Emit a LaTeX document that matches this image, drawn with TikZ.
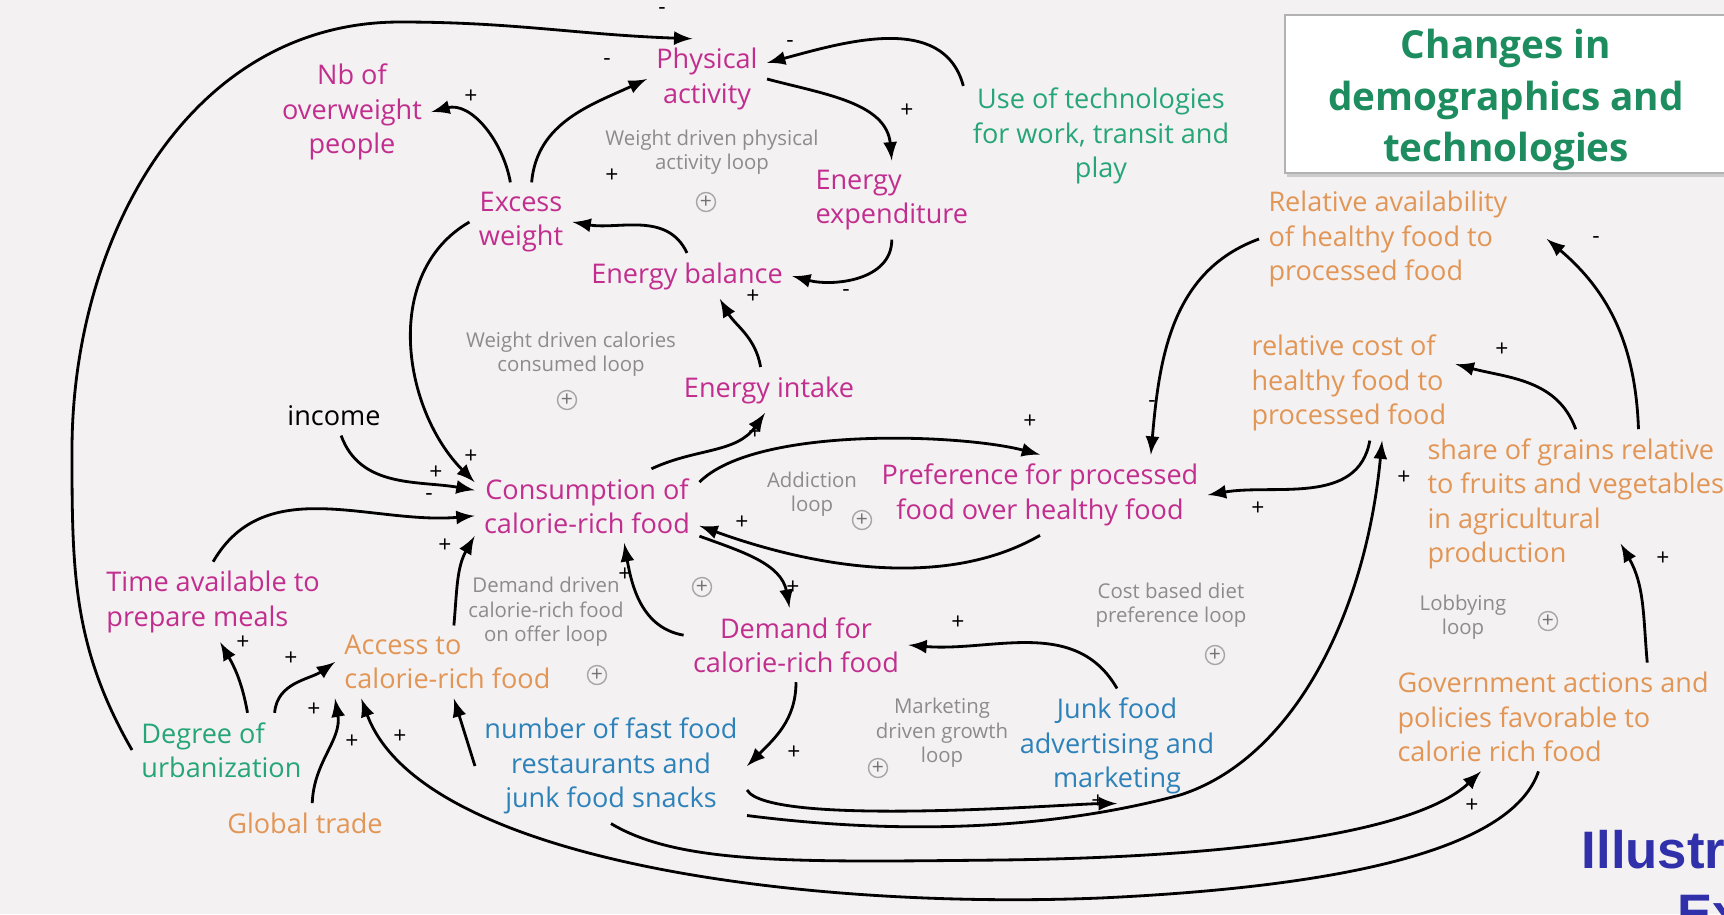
\documentclass[tikz,border=0pt]{standalone}
\usepackage{fontspec}
\setmainfont{Open Sans}
\newfontfamily\stampfont{Liberation Sans}
\usepackage{tikz}
\usetikzlibrary{calc,shadows}

\definecolor{bgpaper}{RGB}{244,241,243}
\definecolor{varpink}{RGB}{193,46,142}
\definecolor{tecgreen}{RGB}{38,166,120}
\definecolor{titlegreen}{RGB}{29,140,95}
\definecolor{suporange}{RGB}{226,150,86}
\definecolor{mktblue}{RGB}{45,130,185}
\definecolor{stampblue}{RGB}{48,48,170}

\begin{document}
\begin{tikzpicture}[x=0.01cm,y=0.01cm,
  base/.style={align=center,inner sep=2.5pt,font=\fontsize{7.7}{9.8}\selectfont},
  pinkvar/.style={base,text=varpink},
  greenvar/.style={base,text=tecgreen},
  orangevar/.style={base,text=suporange},
  bluevar/.style={base,text=mktblue},
  looplabel/.style={align=center,inner sep=0pt,text=black!45,font=\fontsize{5.8}{7}\selectfont},
  loopmark/.style={circle,draw=black!35,text=black!55,inner sep=0pt,minimum size=0.19cm,font=\fontsize{6}{6}\selectfont},
  sign/.style={inner sep=0pt,font=\fontsize{6.5}{6.5}\selectfont},
  link/.style={-latex,thick},
  titleframe/.style={draw=black!30,fill=white,drop shadow={shadow xshift=0.5pt,shadow yshift=-1.2pt,fill=black!35}},
  titletext/.style={align=center,inner sep=0pt,text=titlegreen,font=\bfseries\fontsize{11}{14.6}\selectfont},
  stamp/.style={inner sep=0pt,text=stampblue,font=\stampfont\bfseries\fontsize{15}{18}\selectfont}]

\useasboundingbox (0,0) rectangle (1724,-914);
\fill[bgpaper] (0,0) rectangle (1724,-914);

% Title
\draw[titleframe] (1285,-15) rectangle (1750,-173);
\node[titletext] (title) at (1506,-100) {Changes in\\demographics and\\technologies};

% Weight and energy
\node[pinkvar] (nb) at (352,-112) {Nb of\\overweight\\people};
\node[pinkvar] (phys) at (707,-79) {Physical\\activity};
\node[pinkvar] (excess) at (521,-222) {Excess\\weight};
\node[pinkvar,anchor=west,align=left] (enexp) at (806,-200) {Energy\\expenditure};
\node[pinkvar] (enbal) at (687,-276) {Energy balance};
\node[pinkvar] (enint) at (769,-390) {Energy intake};
\node[greenvar] (tech) at (1101,-136) {Use of technologies\\for work, transit and\\play};

% Consumption
\node[base] (income) at (334,-416) {income};
\node[pinkvar] (cons) at (587,-506) {Consumption of\\calorie-rich food};
\node[pinkvar] (pref) at (1040,-495) {Preference for processed\\food over healthy food};
\node[pinkvar,anchor=west,align=left] (time) at (97,-602) {Time available to\\prepare meals};
\node[pinkvar] (demand) at (796,-645) {Demand for\\calorie-rich food};
\node[greenvar,anchor=west,align=left] (urb) at (132,-750) {Degree of\\urbanization};
\node[orangevar,anchor=west,align=left] (access) at (335,-662) {Access to\\calorie-rich food};
\node[orangevar] (trade) at (305,-823) {Global trade};
\node[bluevar] (fast) at (611,-766) {number of fast food\\restaurants and\\junk food snacks};
\node[bluevar] (junk) at (1117,-746) {Junk food\\advertising and\\marketing};

% Supply side
\node[orangevar,anchor=west,align=left] (avail) at (1259,-239) {Relative availability\\of healthy food to\\processed food};
\node[orangevar,anchor=west,align=left] (cost) at (1242,-383) {relative cost of\\healthy food to\\processed food};
\node[orangevar,anchor=west,align=left] (share) at (1418,-504) {share of grains relative\\to fruits and vegetables\\in agricultural\\production};
\node[orangevar,anchor=west,align=left] (gov) at (1388,-717) {Government actions and\\policies favorable to\\calorie rich food};

% Loops
\node[looplabel] (lphys) at (712,-152) {Weight driven physical\\activity loop};
\node[loopmark] (mphys) at (706,-202) {+};
\node[looplabel] (lcal) at (571,-354) {Weight driven calories\\consumed loop};
\node[loopmark] (mcal) at (567,-400) {+};
\node[looplabel] (ladd) at (812,-494) {Addiction\\loop};
\node[loopmark] (madd) at (862,-520) {+};
\node[looplabel] (loffer) at (546,-612) {Demand driven\\calorie-rich food\\on offer loop};
\node[loopmark] (moffer) at (702,-587) {+};
\node[loopmark] (moffer2) at (597,-675) {+};
\node[looplabel] (lcost) at (1171,-605) {Cost based diet\\preference loop};
\node[loopmark] (mcost) at (1215,-655) {+};
\node[looplabel] (llobby) at (1463,-617) {Lobbying\\loop};
\node[loopmark] (mlobby) at (1548,-621) {+};
\node[looplabel] (lmkt) at (942,-733) {Marketing\\driven growth\\loop};
\node[loopmark] (mmkt) at (878,-768) {+};

% Links
\draw[link] (urb.west) to[out=120,in=-90] (72,-450) to[out=90,in=180] (400,-22) to[out=0,in=178] (phys.110);
\draw[link] (excess.105) to[out=100,in=15] (nb.east);
\draw[link] (excess.75) to[out=85,in=205] (phys.west);
\draw[link] (tech.160) to[out=105,in=15] (phys.15);
\draw[link] (phys.east) to[out=-15,in=95] (enexp.north);
\draw[link] (enexp.south) to[out=-90,in=-15] (enbal.east);
\draw[link] (enbal.north) to[out=115,in=-10] (excess.east);
\draw[link] (enint.110) to[out=100,in=-60] (enbal.-35);
\draw[link] (excess.west) to[out=210,in=135] (cons.168);
\draw[link] (income.-70) to[out=-70,in=170] (cons.172);
\draw[link] (time.north) to[out=60,in=185] (cons.185);
\draw[link] (access.80) to[out=85,in=240] (cons.-165);
\draw[link] (cons.30) to[out=25,in=-125] (enint.-100);
\draw[link] (cons.12) to[out=45,in=165,looseness=0.6] (pref.north);
\draw[link] (pref.south) to[out=-150,in=-20,looseness=0.85] (cons.-10);
\draw[link] (cons.-15) to[out=-20,in=100] (demand.100);
\draw[link] (demand.175) to[out=170,in=-80] (cons.-45);
\draw[link] (demand.south) to[out=-90,in=45] (fast.east);
\draw[link] (junk.north) to[out=120,in=-5] (demand.east);
\draw[link] (fast.-10) to[out=-60,in=180,looseness=0.3] (junk.south);
\draw[link] (fast.-20) .. controls (900,-835) and (1050,-830) .. (1180,-795) .. controls (1290,-760) and (1365,-620) .. (cost.-60);
\draw[link] (fast.south) .. controls (680,-865) and (800,-862) .. (1000,-860) .. controls (1250,-857) and (1420,-830) .. (gov.-143);
\draw[link] (gov.-105) .. controls (1515,-840) and (1380,-885) .. (1100,-898) .. controls (800,-910) and (420,-860) .. (access.-157);
\draw[link] (urb.55) to[out=100,in=-60] (time.-80);
\draw[link] (urb.35) to[out=85,in=215] (access.west);
\draw[link] (trade.70) to[out=88,in=-80] (access.south west);
\draw[link] (fast.west) -- (access.-80);
\draw[link] (avail.west) to[out=200,in=85] (pref.20);
\draw[link] (cost.-70) to[out=-100,in=10] (pref.east);
\draw[link] (share.north) to[out=110,in=-15] (cost.10);
\draw[link] (share.50) to[out=92,in=-40] ($(avail.east)+(30,0)$);
\draw[link] (gov.30) to[out=95,in=-60] ($(share.south)+(45,35)$);

% Signs
\foreach \sx/\sy/\sg [count=\i] in {662/11/-, 471/97/+, 607/62/-, 790/44/-, 907/111/+, 846/293/-, 612/176/+, 753/297/+,
  471/457/+, 436/473/+, 429/497/-, 445/546/+, 755/433/+, 1030/422/+, 742/523/+, 793/588/+, 625/575/+, 794/753/+,
  958/623/+, 1098/802/+, 1404/478/+, 1472/806/+, 352/742/+, 243/643/+, 291/659/+, 314/710/+, 400/737/+,
  1152/404/-, 1258/509/+, 1502/350/+, 1596/240/-, 1663/559/+}
  \node[sign] (sign\i) at (\sx,-\sy) {\sg};

% Stamp
\node[stamp,anchor=north west] (stampa) at (1581,-830) {Illustrative};
\node[stamp,anchor=north west] (stampb) at (1677,-893) {Example};
\end{tikzpicture}
\end{document}
